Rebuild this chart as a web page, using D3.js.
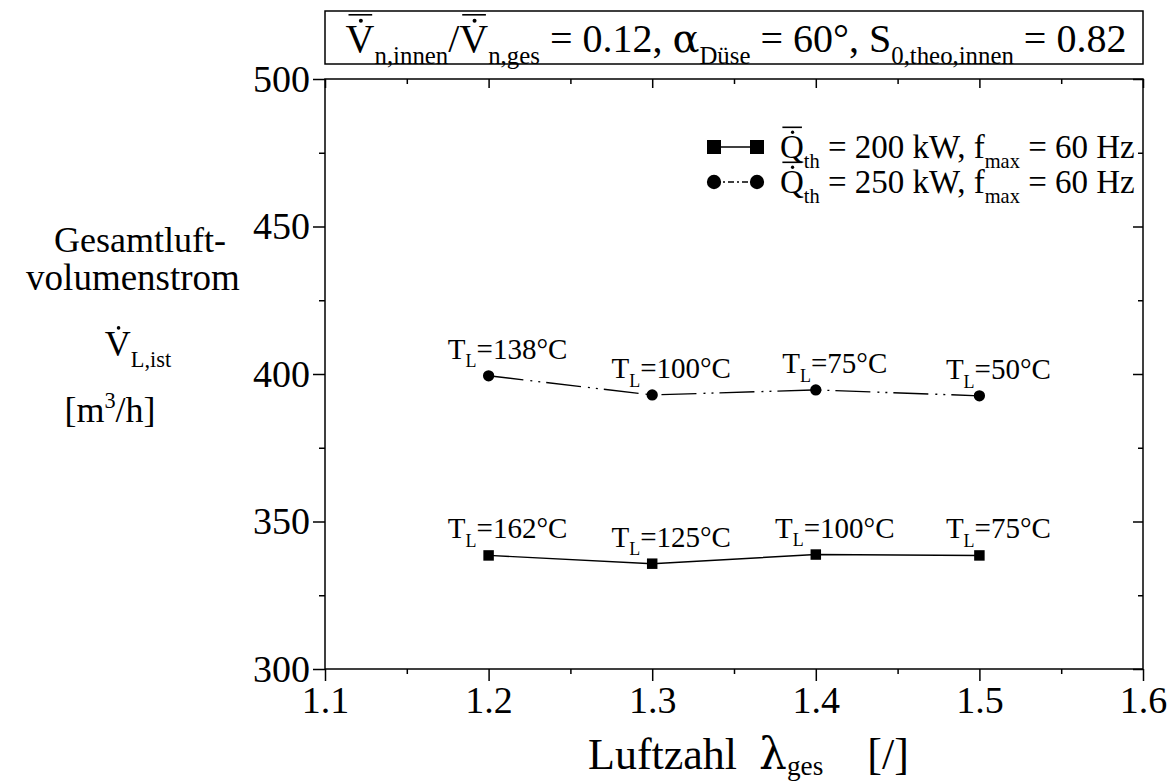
<!DOCTYPE html>
<html>
<head>
<meta charset="utf-8">
<script src="https://cdn.jsdelivr.net/npm/d3@7"></script>
<style>
  html, body { margin: 0; padding: 0; background: #fff; }
  svg { display: block; font-family: "Liberation Serif", "Times New Roman", serif; }
</style>
</head>
<body>
<svg id="chart" width="1168" height="782"></svg>
<script>
// Air excess ratio (x) and total air volume flow (y) for two burner loads
const lambdaGes = [1.2, 1.3, 1.4, 1.5];
const flow200kW = [338.5, 335.7, 338.8, 338.5];
const flow250kW = [399.4, 392.9, 394.6, 392.6];
const temp200kW = ["162", "125", "100", "75"];
const temp250kW = ["138", "100", "75", "50"];
const xTicks = [1.1, 1.2, 1.3, 1.4, 1.5, 1.6];
const xMinor = [1.15, 1.25, 1.35, 1.45, 1.55];
const yTicks = [300, 350, 400, 450, 500];
const yMinor = [325, 375, 425, 475];

const svg = d3.select("#chart");
const L = 325, R = 1143, T = 79, B = 669;

const x = d3.scaleLinear().domain([1.1, 1.6]).range([L, R]);
const y = d3.scaleLinear().domain([300, 500]).range([B, T]);

const fmt = d3.format(".1f");
const NB = "\u00A0";

// Text with sub/superscripts; parts may request a dot and/or bar above a glyph
function rich(sel, px, py, parts, fs, anchor, subShift) {
  const t = sel.append("text")
    .attr("x", px).attr("y", py)
    .attr("font-size", fs)
    .attr("text-anchor", anchor || "start")
    .attr("fill", "#000");
  const sDown = subShift == null ? fs * 0.3 : subShift;
  let shift = 0, idx = 0;
  const marks = [];
  parts.forEach(p => {
    const ts = t.append("tspan").text(p.t);
    const target = p.sub ? sDown : (p.sup ? -fs * 0.38 : 0);
    if (target !== shift) { ts.attr("dy", target - shift); shift = target; }
    if (p.sub || p.sup) ts.attr("font-size", fs * 0.62);
    if (p.font) ts.attr("font-family", p.font);
    if (p.dot || p.bar) marks.push({ idx, p });
    idx += p.t.length;
  });
  marks.forEach(m => {
    const b = t.node().getExtentOfChar(m.idx);
    const cx = b.x + b.width / 2;
    if (m.p.dot) {
      sel.append("circle").attr("cx", cx + fs * 0.02).attr("cy", py - fs * 0.78)
        .attr("r", fs * 0.05).attr("fill", "#000");
    }
    if (m.p.bar) {
      sel.append("line")
        .attr("x1", b.x + b.width * 0.1).attr("x2", b.x + b.width * 0.92)
        .attr("y1", py - fs * 0.93).attr("y2", py - fs * 0.93)
        .attr("stroke", "#000").attr("stroke-width", 1.6);
    }
  });
  return t;
}

// Header box
svg.append("rect").attr("x", L).attr("y", 11).attr("width", R - L).attr("height", 53)
  .attr("fill", "#fff").attr("stroke", "#000").attr("stroke-width", 1.5);
rich(svg, (L + R) / 2 + 2, 52, [
  { t: "V", dot: true, bar: true }, { t: "n,innen", sub: true }, { t: "/" },
  { t: "V", dot: true, bar: true }, { t: "n,ges", sub: true },
  { t: " = 0.12, " }, { t: "α", font: "DejaVu Serif" }, { t: "Düse", sub: true },
  { t: " = 60°, S" }, { t: "0,theo,innen", sub: true }, { t: " = 0.82" }
], 40, "middle");

// Axes
const axisG = svg.append("g");
function styleAxis(g) {
  g.select(".domain").remove();
  g.selectAll("line").attr("stroke", "#000").attr("stroke-width", 1.5);
  g.selectAll("text").attr("font-family", "Liberation Serif").attr("font-size", 38).attr("fill", "#000");
}
axisG.append("g").attr("transform", `translate(${L},0)`)
  .call(d3.axisLeft(y).tickValues(yTicks).tickSize(12).tickPadding(3).tickFormat(d3.format("d")))
  .call(styleAxis);
axisG.append("g").attr("transform", `translate(${L},0)`)
  .call(d3.axisLeft(y).tickValues(yMinor).tickSize(6).tickFormat(""))
  .call(styleAxis);
axisG.append("g").attr("transform", `translate(${R},0)`)
  .call(d3.axisLeft(y).tickValues(yTicks).tickSize(10).tickFormat(""))
  .call(styleAxis);
axisG.append("g").attr("transform", `translate(${R},0)`)
  .call(d3.axisLeft(y).tickValues(yMinor).tickSize(5).tickFormat(""))
  .call(styleAxis);
axisG.append("g").attr("transform", `translate(0,${B})`)
  .call(d3.axisBottom(x).tickValues(xTicks).tickSize(12).tickPadding(5).tickFormat(fmt))
  .call(styleAxis);
axisG.append("g").attr("transform", `translate(0,${B})`)
  .call(d3.axisBottom(x).tickValues(xMinor).tickSize(5).tickFormat(""))
  .call(styleAxis);
axisG.append("g").attr("transform", `translate(0,${T})`)
  .call(d3.axisBottom(x).tickValues(xTicks).tickSize(9).tickFormat(""))
  .call(styleAxis);
axisG.append("g").attr("transform", `translate(0,${T})`)
  .call(d3.axisBottom(x).tickValues(xMinor).tickSize(5).tickFormat(""))
  .call(styleAxis);
svg.append("rect").attr("x", L).attr("y", T).attr("width", R - L).attr("height", B - T)
  .attr("fill", "none").attr("stroke", "#000").attr("stroke-width", 1.5);

// Axis titles
rich(svg, 588, 769, [
  { t: "Luftzahl" + NB + NB }, { t: "λ", font: "DejaVu Serif" }, { t: "ges", sub: true },
  { t: NB + NB + NB + NB + "[/]" }
], 44, "start", 6);
rich(svg, 140, 252, [{ t: "Gesamtluft-" }], 36, "middle");
rich(svg, 133, 290, [{ t: "volumenstrom" }], 37, "middle");
rich(svg, 138, 356, [{ t: "V", dot: true }, { t: "L,ist", sub: true }], 36, "middle");
rich(svg, 110, 422, [{ t: "[m" }, { t: "3", sup: true }, { t: "/h]" }], 36, "middle");

// Series
const series = [
  { vals: flow200kW, temps: temp200kW, dash: null, sym: "square" },
  { vals: flow250kW, temps: temp250kW, dash: "35,7,2,6,2,6", sym: "circle" }
];
const line = d3.line().x(d => x(d[0])).y(d => y(d[1]));
series.forEach(s => {
  const pts = lambdaGes.map((l, i) => [l, s.vals[i]]);
  svg.append("path").attr("d", line(pts)).attr("fill", "none")
    .attr("stroke", "#000").attr("stroke-width", 1.4)
    .attr("stroke-dasharray", s.dash);
  const sym = d3.symbol().type(s.sym === "square" ? d3.symbolSquare : d3.symbolCircle)
    .size(s.sym === "square" ? 110 : 100);
  svg.append("g").selectAll("path").data(pts).join("path")
    .attr("transform", d => `translate(${x(d[0])},${y(d[1])})`)
    .attr("d", sym).attr("fill", "#000");
  pts.forEach((d, i) => {
    rich(svg, x(d[0]) + 19, y(d[1]) - 17, [
      { t: "T" }, { t: "L", sub: true }, { t: "=" + s.temps[i] + "°C" }
    ], 29, "middle");
  });
});

// Legend
const legend = [
  { sym: d3.symbolSquare, size: 196, dash: null, load: "200" },
  { sym: d3.symbolCircle, size: 160, dash: "6,3,2,3", load: "250" }
];
legend.forEach((lg, i) => {
  const ly = 147 + i * 35;
  svg.append("line").attr("x1", 714).attr("x2", 757).attr("y1", ly).attr("y2", ly)
    .attr("stroke", "#000").attr("stroke-width", 1.5).attr("stroke-dasharray", lg.dash);
  [714, 757].forEach(cx => {
    svg.append("path").attr("transform", `translate(${cx},${ly})`)
      .attr("d", d3.symbol().type(lg.sym).size(lg.size)()).attr("fill", "#000");
  });
  rich(svg, 780, ly + 11, [
    { t: "Q", dot: true, bar: true }, { t: "th", sub: true },
    { t: " = " + lg.load + " kW, f" }, { t: "max", sub: true }, { t: " = 60 Hz" }
  ], 33, "start");
});
</script>
</body>
</html>
